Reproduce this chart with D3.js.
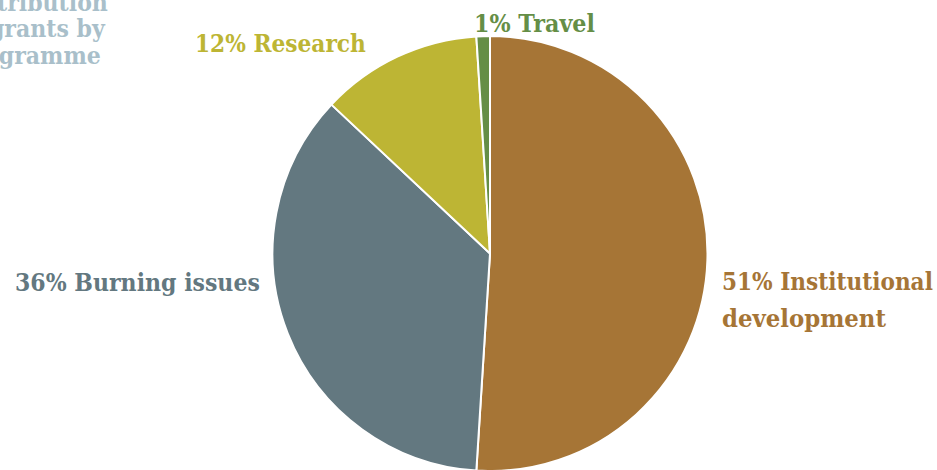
<!DOCTYPE html>
<html>
<head>
<meta charset="utf-8">
<script src="https://cdn.jsdelivr.net/npm/d3@7"></script>
<style>
  html, body { margin: 0; padding: 0; background: #ffffff; }
  svg { display: block; }
  text { font-family: "DejaVu Serif", serif; font-weight: bold; }
</style>
</head>
<body>
<svg id="chart" width="937" height="470"></svg>
<script>
// ---- data ----
const categories = ["Institutional development", "Burning issues", "Research", "Travel"];
const values = [51, 36, 12, 1];
const labelLines = [["51% Institutional", "development"], ["36% Burning issues"], ["12% Research"], ["1% Travel"]];
const colors = ["#A67536", "#637880", "#BDB534", "#658E46"];
const titleLines = ["Distribution", "of grants by", "programme"];

// ---- layout ----
const W = 937, H = 470;
const cx = 490, cy = 253.5, R = 217.5;
const FS = 25;
const svg = d3.select("#chart");

const pie = d3.pie().sort(null).value(d => d)(values);
const arc = d3.arc().innerRadius(0).outerRadius(R);

const g = svg.append("g").attr("transform", `translate(${cx},${cy})`);
g.selectAll("path")
  .data(pie)
  .join("path")
  .attr("d", arc)
  .attr("fill", (d, i) => colors[i])
  .attr("stroke", "#ffffff")
  .attr("stroke-width", 2)
  .attr("stroke-linejoin", "round");

function natural(str, fs) {
  const t = svg.append("text").attr("font-size", fs).text(str);
  const len = t.node().getComputedTextLength();
  t.remove();
  return len;
}

// label placement: x edge, first baseline, anchor side, target widths per line
const labelPos = [
  { x: 722, y: 289.5, anchor: "start", w: [211, 164], lh: 37 },
  { x: 260, y: 291, anchor: "end", w: [245], lh: 37 },
  { x: 195, y: 51.5, anchor: "start", w: [171], lh: 37 },
  { x: 474, y: 32, anchor: "start", w: [121], lh: 37 }
];

// draws one line of text horizontally condensed to width w
function drawLine(str, x, y, w, color, anchor) {
  const k = w / natural(str, FS);
  const x0 = anchor === "end" ? x - w : x;
  svg.append("text")
    .attr("transform", `translate(${x0},${y}) scale(${k},1)`)
    .attr("font-size", FS)
    .attr("fill", color)
    .text(str);
}

labelLines.forEach((lines, i) => {
  const p = labelPos[i];
  lines.forEach((ln, j) => drawLine(ln, p.x, p.y + j * p.lh, p.w[j], colors[i], p.anchor));
});

// title (partly off-canvas on the left, as in the original)
const kT = 245 / natural("36% Burning issues", FS);
const titleRight = 108;
const wFirst = natural(titleLines[0], FS) * kT;
const tx = titleRight - wFirst;
titleLines.forEach((ln, j) => drawLine(ln, tx, 11 + j * 26.3, natural(ln, FS) * kT, "#A9BFCA", "start"));
</script>
</body>
</html>
